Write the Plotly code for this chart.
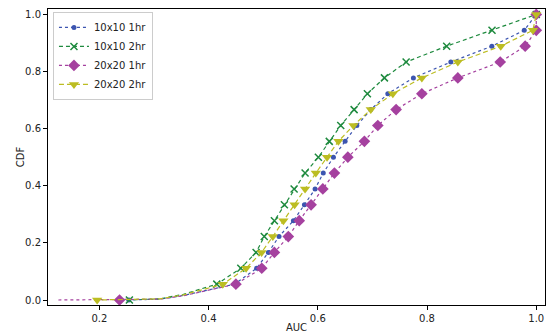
import plotly.graph_objects as go

# CDF levels at which markers are drawn (k/18)
cdf_marks = [k / 18 for k in range(19)]

# AUC values at the marker positions
auc_10x10_1hr = [0.254, 0.448, 0.488, 0.5095, 0.529, 0.5553, 0.5755, 0.595, 0.610, 0.6286,
                 0.650, 0.6715, 0.697, 0.7282, 0.775, 0.8436, 0.9187, 0.978, 1.0]
auc_10x10_2hr = [0.255, 0.415, 0.459, 0.487, 0.502, 0.5205, 0.5388, 0.5566, 0.5767, 0.601,
                 0.621, 0.642, 0.6665, 0.6908, 0.722, 0.7617, 0.836, 0.919, 1.0]
auc_20x20_1hr = [0.237, 0.450, 0.4974, 0.5205, 0.546, 0.566, 0.5877, 0.6092, 0.6304, 0.655,
                 0.6853, 0.7099, 0.7434, 0.7905, 0.8564, 0.934, 0.9797, 1.0, 1.0]
auc_20x20_2hr = [0.196, 0.426, 0.4687, 0.497, 0.5176, 0.537, 0.5575, 0.5767, 0.5964, 0.617,
                 0.6377, 0.6652, 0.697, 0.7374, 0.7905, 0.8564, 0.935, 0.9938, 1.0]

# Extra line points in the low tail (AUC, CDF)
tail_10x10_1hr = ([0.25, 0.311, 0.354, 0.397], [0.0, 0.003, 0.016, 0.033])
tail_10x10_2hr = ([0.25, 0.311, 0.354, 0.397], [0.0, 0.004, 0.020, 0.044])
tail_20x20_1hr = ([0.125, 0.311, 0.354, 0.397], [0.0, 0.003, 0.015, 0.032])
tail_20x20_2hr = ([0.19, 0.311, 0.354, 0.397], [0.0, 0.004, 0.018, 0.040])

series = [
    ("10x10 1hr", auc_10x10_1hr, tail_10x10_1hr, "#3c55b0", "dot", "circle", 5),
    ("10x10 2hr", auc_10x10_2hr, tail_10x10_2hr, "#1e8a3e", "4px,3px", "x-thin", 7),
    ("20x20 1hr", auc_20x20_1hr, tail_20x20_1hr, "#a5419f", "dot", "diamond", 9),
    ("20x20 2hr", auc_20x20_2hr, tail_20x20_2hr, "#bcbd22", "5px,3px", "triangle-down", 9),
]

fig = go.Figure()
for name, aucs, tail, color, dash, sym, size in series:
    pts = sorted(list(zip(tail[0], tail[1])) + list(zip(aucs[1:], cdf_marks[1:])))
    # line through all points
    fig.add_trace(go.Scatter(
        x=[p[0] for p in pts], y=[p[1] for p in pts], mode="lines",
        line=dict(color=color, dash=dash, width=1.2), showlegend=False, hoverinfo="skip"))
    mk = dict(color=color, symbol=sym, size=size)
    if sym == "x-thin":
        mk["line"] = dict(color=color, width=1.5)
    fig.add_trace(go.Scatter(
        x=aucs, y=cdf_marks, mode="markers", marker=mk, showlegend=False))
    # legend entry
    fig.add_trace(go.Scatter(
        x=[None], y=[None], mode="lines+markers", name=name,
        line=dict(color=color, dash=dash, width=1.2), marker=mk))

axis_common = dict(showline=True, linecolor="black", linewidth=1, mirror=True,
                   ticks="outside", ticklen=4, tickcolor="black", showgrid=False,
                   zeroline=False, automargin=False, tickfont=dict(size=10, color="#222"))

fig.update_layout(
    width=551, height=333,
    margin=dict(l=48, r=6, t=9, b=28),
    plot_bgcolor="white", paper_bgcolor="white",
    font=dict(family="DejaVu Sans", size=10, color="#222"),
    xaxis=dict(range=[0.106, 1.016], tickvals=[0.2, 0.4, 0.6, 0.8, 1.0],
               ticktext=["0.2", "0.4", "0.6", "0.8", "1.0"],
               title=dict(text="AUC", standoff=2, font=dict(size=10)), **axis_common),
    yaxis=dict(range=[-0.0175, 1.019], tickvals=[0, 0.2, 0.4, 0.6, 0.8, 1.0],
               ticktext=["0.0", "0.2", "0.4", "0.6", "0.8", "1.0"], **axis_common),
    legend=dict(x=0.01, y=0.99, xanchor="left", yanchor="top",
                bgcolor="rgba(255,255,255,0.8)", bordercolor="#cccccc", borderwidth=1,
                font=dict(size=10), itemwidth=30, tracegroupgap=0),
    annotations=[dict(text="CDF", textangle=-90, xref="paper", yref="paper",
                      x=-0.056, y=0.5, showarrow=False, xanchor="center", yanchor="middle",
                      font=dict(size=10, color="#222"))],
)

fig.write_html("out.html", config={"displayModeBar": False},
               post_script="document.body.style.margin='0';")
